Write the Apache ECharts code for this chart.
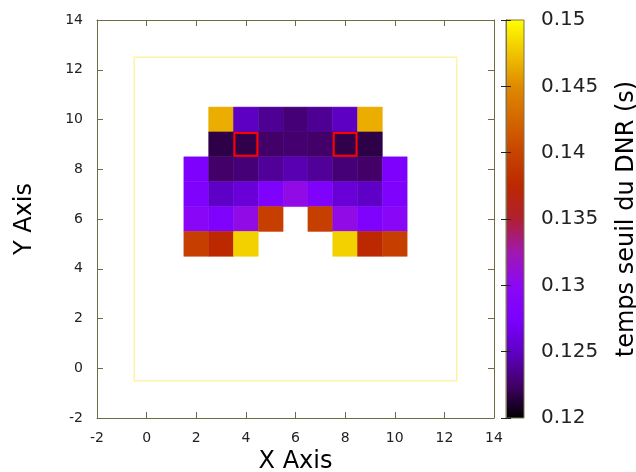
<!DOCTYPE html>
<html>
<head>
<meta charset="utf-8">
<script src="https://cdn.jsdelivr.net/npm/echarts@6/dist/echarts.min.js"></script>
<style>html,body{margin:0;padding:0;background:#fff}#c{width:636px;height:472px}</style>
</head>
<body>
<div id="c"></div>
<script>
// ---- data ----
const xValues = [2, 3, 4, 5, 6, 7, 8, 9, 10];
const rowY = [10, 9, 8, 7, 6, 5];
const row10 = [null, 0.1465, 0.1250, 0.1237, 0.1229, 0.1237, 0.1250, 0.1465, null];
const row9  = [null, 0.1217, 0.1218, 0.1225, 0.1227, 0.1225, 0.1218, 0.1217, null];
const row8  = [0.1278, 0.1225, 0.1229, 0.1238, 0.1245, 0.1238, 0.1229, 0.1225, 0.1278];
const row7  = [0.1280, 0.1251, 0.1258, 0.1280, 0.1305, 0.1280, 0.1258, 0.1251, 0.1280];
const row6  = [0.1295, 0.1280, 0.1305, 0.1395, null, 0.1395, 0.1305, 0.1280, 0.1295];
const row5  = [0.1395, 0.1375, 0.1480, null, null, null, 0.1480, 0.1375, 0.1395];
const rows = [row10, row9, row8, row7, row6, row5];
const highlightX = [4, 8];
const highlightY = [9, 9];
const frameRange = [-0.5, 12.5];
const axisTicks = [-2, 0, 2, 4, 6, 8, 10, 12, 14];
const cbMin = 0.12, cbMax = 0.15;
const paletteColors = ['#000000', '#420068', '#5e00c4', '#7c00ff', '#8c08f4', '#a018b0',
  '#b02030', '#bc2800', '#c84400', '#d46700', '#e08a00', '#f0c500', '#ffff00'];

// ---- build ----
const cells = [];
rows.forEach((r, ri) => r.forEach((v, ci) => { if (v !== null) cells.push([xValues[ci], rowY[ri], v]); }));
const highlights = highlightX.map((x, i) => [x, highlightY[i]]);

const olive = '#6e6a45';
const txt = '#222222';
const font = 'DejaVu Sans';

const chart = echarts.init(document.getElementById('c'), null, { renderer: 'canvas' });

function mainX(pos, showLabel, name) {
  return {
    gridIndex: 0, type: 'value', position: pos, min: axisTicks[0], max: axisTicks[axisTicks.length - 1], interval: 2,
    axisLine: { show: true, onZero: false, lineStyle: { color: olive, width: 1 } },
    axisTick: { show: true, inside: true, length: 6, lineStyle: { color: olive } },
    axisLabel: { show: showLabel, color: txt, fontSize: 14, fontFamily: font, margin: 13 },
    splitLine: { show: false },
    name: name, nameLocation: 'middle', nameGap: 28,
    nameTextStyle: { fontSize: 24, color: '#000', fontFamily: font }
  };
}
function mainY(pos, showLabel, name) {
  return {
    gridIndex: 0, type: 'value', position: pos, min: axisTicks[0], max: axisTicks[axisTicks.length - 1], interval: 2,
    axisLine: { show: true, onZero: false, lineStyle: { color: olive, width: 1 } },
    axisTick: { show: true, inside: true, length: 6, lineStyle: { color: olive } },
    axisLabel: { show: showLabel, color: txt, fontSize: 14, fontFamily: font, margin: 14 },
    splitLine: { show: false },
    name: name, nameLocation: 'middle', nameGap: 60, nameRotate: 90,
    nameTextStyle: { fontSize: 24, color: '#000', fontFamily: font }
  };
}

const option = {
  backgroundColor: '#ffffff',
  animation: false,
  grid: [
    { left: 97, right: 142, top: 20, bottom: 54, containLabel: false, outerBoundsMode: 'none' },
    { left: 506, width: 18, top: 20, bottom: 54, containLabel: false, outerBoundsMode: 'none' }
  ],
  xAxis: [
    mainX('bottom', true, 'X Axis'),
    mainX('top', false, ''),
    { gridIndex: 1, type: 'value', min: 0, max: 1, show: false }
  ],
  yAxis: [
    mainY('left', true, 'Y Axis'),
    mainY('right', false, ''),
    {
      gridIndex: 1, type: 'value', position: 'right', min: cbMin, max: cbMax, interval: 0.005, z: 10,
      axisLine: { show: true, lineStyle: { color: '#7a7550' } },
      axisTick: { show: true, inside: true, length: 5, lineStyle: { color: '#222' } },
      axisLabel: { color: txt, fontSize: 20, fontFamily: font, margin: 17 },
      splitLine: { show: false },
      name: 'temps seuil du DNR (s)', nameLocation: 'middle', nameRotate: 90, nameGap: 91,
      nameTextStyle: { fontSize: 24, color: '#000', fontFamily: font }
    },
    {
      gridIndex: 1, type: 'value', position: 'left', min: cbMin, max: cbMax, interval: 0.005, z: 10,
      axisLine: { show: true, lineStyle: { color: '#7a7550' } },
      axisTick: { show: true, inside: true, length: 5, lineStyle: { color: '#222' } },
      axisLabel: { show: false }, splitLine: { show: false }
    }
  ],
  visualMap: {
    show: false, type: 'continuous', min: cbMin, max: cbMax, dimension: 2, seriesIndex: 0,
    inRange: { color: paletteColors }
  },
  series: [
    {
      type: 'custom', xAxisIndex: 0, yAxisIndex: 0, data: cells, z: 3,
      renderItem: function (params, api) {
        const x = api.value(0), y = api.value(1);
        const p0 = api.coord([x - 0.5, y + 0.5]);
        const p1 = api.coord([x + 0.5, y - 0.5]);
        return { type: 'rect', shape: { x: p0[0], y: p0[1], width: p1[0] - p0[0], height: p1[1] - p0[1] },
          style: { fill: api.visual('color'), stroke: api.visual('color'), lineWidth: 0.5 } };
      }
    },
    {
      type: 'custom', xAxisIndex: 0, yAxisIndex: 0, data: [[frameRange[0], frameRange[0], frameRange[1], frameRange[1]]], z: 2,
      renderItem: function (params, api) {
        const p0 = api.coord([api.value(0), api.value(3)]);
        const p1 = api.coord([api.value(2), api.value(1)]);
        return { type: 'rect', shape: { x: p0[0], y: p0[1], width: p1[0] - p0[0], height: p1[1] - p0[1] },
          style: { fill: null, stroke: '#fff3a6', lineWidth: 1.5 } };
      }
    },
    {
      type: 'custom', xAxisIndex: 0, yAxisIndex: 0, data: highlights, z: 5,
      renderItem: function (params, api) {
        const x = api.value(0), y = api.value(1);
        const p0 = api.coord([x - 0.5, y + 0.5]);
        const p1 = api.coord([x + 0.5, y - 0.5]);
        return { type: 'rect', shape: { x: p0[0] + 1, y: p0[1] + 1, width: p1[0] - p0[0] - 2, height: p1[1] - p0[1] - 2 },
          style: { fill: null, stroke: '#ff0000', lineWidth: 2 } };
      }
    },
    {
      type: 'custom', xAxisIndex: 2, yAxisIndex: 2, data: [[0, cbMin, 1, cbMax]], z: 2,
      renderItem: function (params, api) {
        const p0 = api.coord([api.value(0), api.value(3)]);
        const p1 = api.coord([api.value(2), api.value(1)]);
        const stops = paletteColors.map((c, i) => ({ offset: i / (paletteColors.length - 1), color: c }));
        return { type: 'rect', shape: { x: p0[0], y: p0[1], width: p1[0] - p0[0], height: p1[1] - p0[1] },
          style: { fill: { type: 'linear', x: 0, y: 1, x2: 0, y2: 0, colorStops: stops }, stroke: '#7a7550', lineWidth: 1 } };
      }
    }
  ]
};
chart.setOption(option);
</script>
</body>
</html>
